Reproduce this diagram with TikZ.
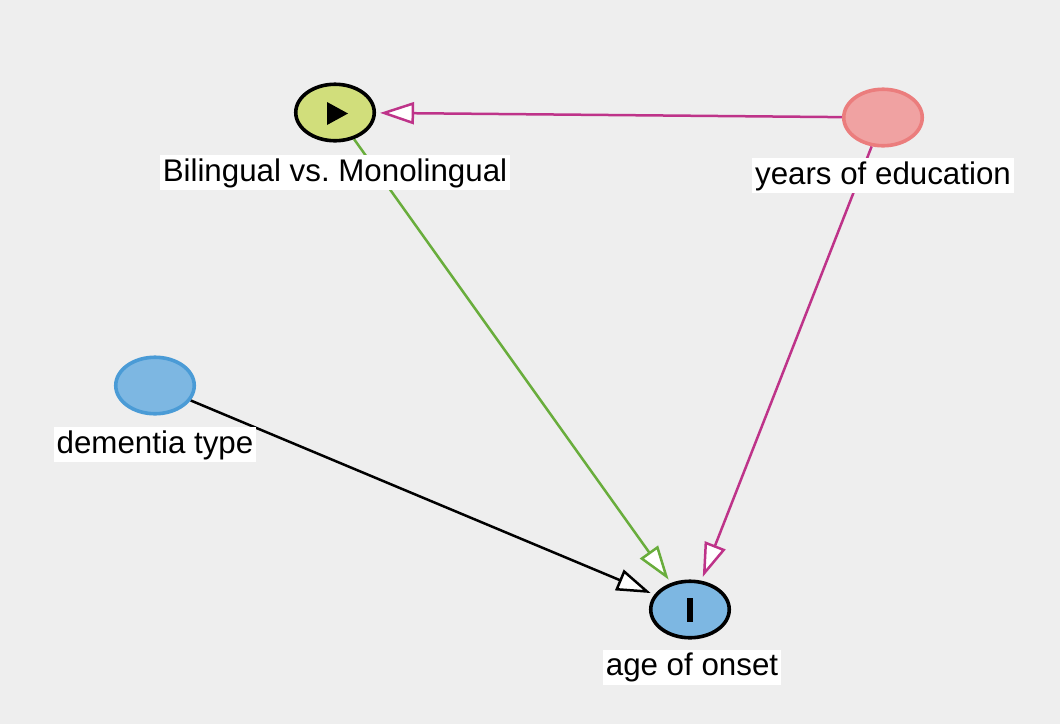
\documentclass[tikz,border=0pt]{standalone}
\usepackage{fontspec}
\setmainfont{Liberation Sans}
\usetikzlibrary{shapes.geometric,arrows.meta}
\pgfdeclarelayer{bglayer}
\pgfdeclarelayer{edges}
\pgfsetlayers{bglayer,edges,main}
\definecolor{bgc}{HTML}{EEEEEE}
\definecolor{expfill}{HTML}{D1DE7B}
\definecolor{confill}{HTML}{F0A2A2}
\definecolor{condraw}{HTML}{EB7D7D}
\definecolor{blufill}{HTML}{7DB7E2}
\definecolor{bludraw}{HTML}{4A9BD6}
\definecolor{magc}{HTML}{BE3389}
\definecolor{grnc}{HTML}{69AD3C}
\tikzset{
  vnode/.style={ellipse, line width=3.6pt, inner sep=0pt, minimum width=78.5pt, minimum height=56.5pt},
  vlabel/.style={fill=white, inner xsep=3pt, inner ysep=2pt, text height=24pt, text depth=7pt, font=\fontsize{31.3}{36}\selectfont},
  dagedge/.style={line width=2.5pt, shorten >=4pt, -{Triangle[fill=white, length=34pt, width=22pt, line width=2.5pt]}}
}
\frenchspacing
\begin{document}
\begin{tikzpicture}[x=1pt,y=-1pt]
\begin{pgfonlayer}{bglayer}
\fill[bgc] (0,0) rectangle (1060,724);
\end{pgfonlayer}
\useasboundingbox (0,0) rectangle (1060,724);
% variable nodes
\node[vnode, draw=black, fill=expfill] (bil) at (335,112.5) {};
\node[vnode, draw=condraw, fill=confill] (edu) at (883,117.5) {};
\node[vnode, draw=bludraw, fill=blufill] (dem) at (155,385.5) {};
\node[vnode, draw=black, fill=blufill] (age) at (690,609.5) {};
% symbols inside nodes
\fill[black] (327,102) -- (327,125) -- (348,113.5) -- cycle;
\fill[black] (687,598) rectangle (693,622);
% labels
\node[vlabel] (bill) at (335,172.5) {Bilingual vs. Monolingual};
\node[vlabel] (edul) at (883,175.5) {years of education};
\node[vlabel] (deml) at (155,444.5) {dementia type};
\node[vlabel] (agel) at (692,667) {age of onset};
% edges
\begin{pgfonlayer}{edges}
\draw[dagedge, magc] (edu) -- (bil);
\draw[dagedge, magc] (edu) -- (age);
\draw[dagedge, grnc] (bil) -- (age);
\draw[dagedge, black] (dem) -- (age);
\end{pgfonlayer}
\end{tikzpicture}
\end{document}
